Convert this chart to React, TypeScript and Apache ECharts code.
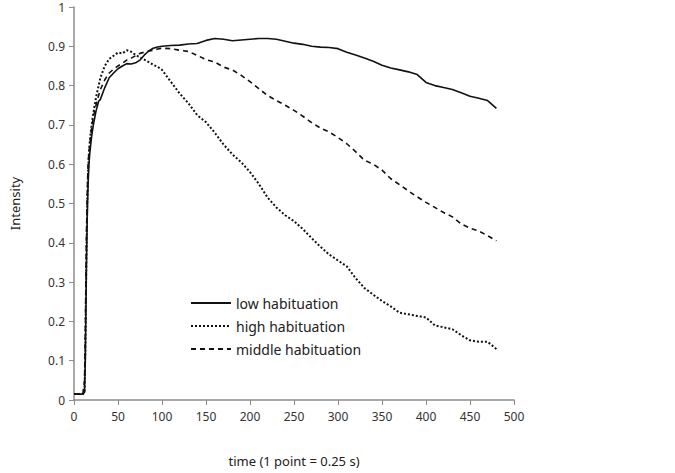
import React, { useEffect, useRef } from "react";
import * as echarts from "echarts";

const timePoints = [0,5,10,12,13,14,15,16,17,18,20,22,25,28,30,35,40,45,50,55,60,65,70,75,80,85,90,95,100,110,120,130,140,150,160,170,180,190,200,210,220,230,240,250,260,270,280,290,300,310,320,330,340,350,360,370,380,390,400,410,420,430,440,450,460,470,480];

const lowHabituation = [0.015,0.015,0.015,0.02,0.12,0.32,0.46,0.55,0.6,0.63,0.67,0.7,0.735,0.76,0.765,0.795,0.82,0.832,0.843,0.85,0.856,0.855,0.858,0.865,0.878,0.888,0.895,0.898,0.9,
0.902,0.903,0.906,0.907,0.915,0.92,0.918,0.914,0.916,0.918,0.92,0.92,0.918,0.913,0.908,0.905,0.9,0.898,0.897,0.894,0.885,0.878,0.87,0.862,0.852,0.845,0.84,0.835,0.828,0.808,0.8,0.795,0.79,0.782,0.773,0.768,0.762,0.742];

const highHabituation = [0.015,0.015,0.015,0.02,0.15,0.35,0.5,0.58,0.63,0.66,0.7,0.73,0.77,0.8,0.82,0.85,0.868,0.876,0.884,0.882,0.89,0.886,0.878,0.872,0.866,0.86,0.853,0.848,0.84,
0.81,0.78,0.755,0.725,0.707,0.68,0.65,0.625,0.605,0.58,0.55,0.515,0.49,0.47,0.455,0.435,0.412,0.39,0.37,0.355,0.34,0.31,0.285,0.268,0.252,0.238,0.222,0.218,0.214,0.21,0.19,0.185,0.18,0.165,0.152,0.148,0.148,0.13];

const middleHabituation = [0.015,0.015,0.015,0.05,0.2,0.4,0.52,0.6,0.63,0.65,0.69,0.72,0.75,0.775,0.79,0.815,0.832,0.842,0.85,0.857,0.865,0.87,0.876,0.882,0.885,0.888,0.89,0.893,0.895,
0.894,0.89,0.887,0.877,0.866,0.86,0.847,0.84,0.826,0.81,0.792,0.775,0.762,0.75,0.737,0.722,0.706,0.692,0.682,0.668,0.652,0.632,0.61,0.6,0.585,0.563,0.548,0.532,0.517,0.503,0.49,0.477,0.466,0.448,0.437,0.43,0.418,0.405];

const seriesNames = ["low habituation", "high habituation", "middle habituation"];

const pair = (vals: number[]) => vals.map((v, i) => [timePoints[i], v]);

export default function App() {
  const ref = useRef<HTMLDivElement>(null);
  useEffect(() => {
    if (!ref.current) return;
    const chart = echarts.init(ref.current, undefined, { renderer: "svg" });
    const font = "'Noto Sans', 'Open Sans', sans-serif";
    const axisColor = "#8c8c8c";
    chart.setOption({
      animation: false,
      backgroundColor: "#ffffff",
      textStyle: { fontFamily: font },
      grid: { left: 68, right: 161, top: 7, bottom: 73 },
      legend: {
        orient: "vertical",
        left: 185,
        top: 291,
        itemWidth: 40,
        itemHeight: 14,
        itemGap: 9,
        itemStyle: { opacity: 0 },
        textStyle: { fontFamily: font, fontSize: 14, color: "#222" },
        data: seriesNames,
      },
      xAxis: {
        type: "value",
        min: 0,
        max: 500,
        interval: 50,
        name: "time (1 point = 0.25 s)",
        nameLocation: "middle",
        nameGap: 54,
        nameTextStyle: { fontFamily: font, fontSize: 13, color: "#222" },
        axisLine: { show: true, lineStyle: { color: axisColor, width: 1.5 } },
        axisTick: { show: true, length: 5, lineStyle: { color: axisColor } },
        axisLabel: { fontFamily: font, fontSize: 12, color: "#333", margin: 10 },
        splitLine: { show: false },
      },
      yAxis: {
        type: "value",
        min: 0,
        max: 1,
        interval: 0.1,
        name: "Intensity",
        nameLocation: "middle",
        nameGap: 53,
        nameRotate: 90,
        nameTextStyle: { fontFamily: font, fontSize: 13, color: "#222" },
        axisLine: { show: true, lineStyle: { color: axisColor, width: 1.5 } },
        axisTick: { show: true, length: 5, lineStyle: { color: axisColor } },
        axisLabel: { fontFamily: font, fontSize: 12, color: "#333", margin: 9 },
        splitLine: { show: false },
      },
      series: [
        {
          name: seriesNames[0],
          type: "line",
          data: pair(lowHabituation),
          showSymbol: false,
          symbol: "none",
          lineStyle: { color: "#111", width: 1.6, type: "solid" },
          itemStyle: { color: "#111" },
        },
        {
          name: seriesNames[1],
          type: "line",
          data: pair(highHabituation),
          showSymbol: false,
          symbol: "none",
          lineStyle: { color: "#111", width: 2, type: [2, 2] },
          itemStyle: { color: "#111" },
        },
        {
          name: seriesNames[2],
          type: "line",
          data: pair(middleHabituation),
          showSymbol: false,
          symbol: "none",
          lineStyle: { color: "#111", width: 1.6, type: [5, 4] },
          itemStyle: { color: "#111" },
        },
      ],
    });
    return () => chart.dispose();
  }, []);
  return (
    <div
      ref={ref}
      style={{ position: "absolute", left: 0, top: 0, width: 675, height: 473, background: "#fff" }}
    />
  );
}
